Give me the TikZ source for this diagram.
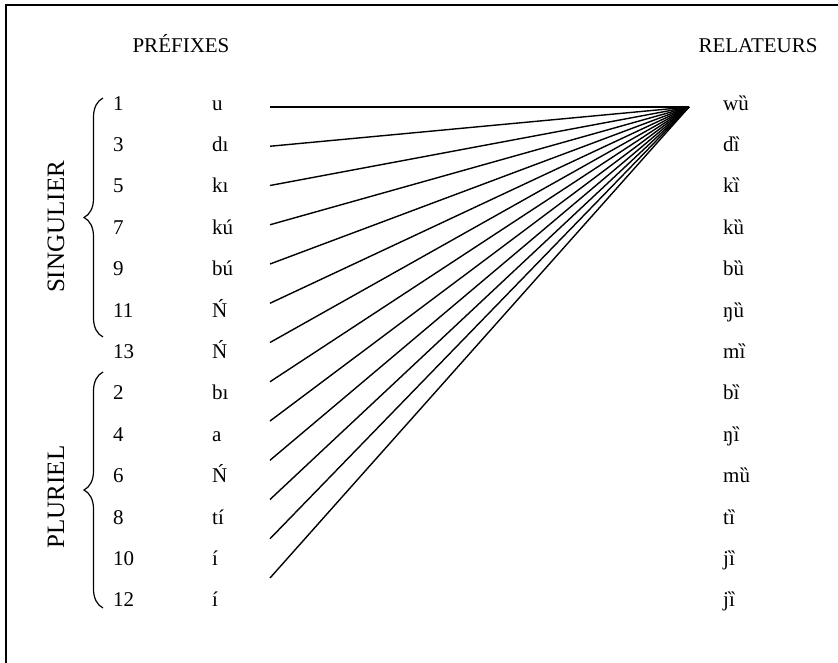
\documentclass[tikz,border=0pt]{standalone}
\usepackage{fontspec}
\setmainfont{Liberation Serif}
\usetikzlibrary{decorations.pathreplacing}
\begin{document}
\begin{tikzpicture}[x=1pt,y=-1pt,
  txt/.style={anchor=base west,inner sep=0pt,font=\fontsize{21}{25}\selectfont},
  head/.style={anchor=base,inner sep=0pt,font=\fontsize{21}{25}\selectfont},
  side/.style={rotate=90,inner sep=0pt,font=\fontsize{25}{30}\selectfont},
  conn/.style={line width=1.4pt},
  bracestyle/.style={decorate,decoration={brace,amplitude=19pt},line width=1.2pt}]
\clip (0,0) rectangle (838,662);
\useasboundingbox (0,0) rectangle (838,662);
\draw[line width=1.4pt] (6,670) -- (6,5) -- (845,5);
\node[head] (hp) at (181,52) {PRÉFIXES};
\node[head] (hr) at (758,52) {RELATEURS};
\foreach \k/\n/\p/\r in {0/1/u/wȕ,1/3/dı/dȉ,2/5/kı/kȉ,3/7/kú/kȕ,4/9/bú/bȕ,5/11/Ń/ŋȕ,6/13/Ń/mȉ,7/2/bı/bȉ,8/4/a/ŋȉ,9/6/Ń/mȕ,10/8/tí/tȉ,11/10/í/jȉ,12/12/í/jȉ}{
  \node[txt] (n\k) at (113,{110+\k*41.4}) {\n};
  \node[txt] (p\k) at (212,{110+\k*41.4}) {\p};
  \node[txt] (r\k) at (723,{110+\k*41.4}) {\r};
  \coordinate (s\k) at (270,{107+\k*39.25});
}
\coordinate (apex) at (689,107);
\foreach \k in {0,...,12}{\draw[conn] (s\k) -- (apex);}
\draw[bracestyle] (103,337) -- (103,98);
\draw[bracestyle] (103,608) -- (103,372);
\node[side] (sg) at (56,227) {SINGULIER};
\node[side] (pl) at (56,497) {PLURIEL};
\end{tikzpicture}
\end{document}
